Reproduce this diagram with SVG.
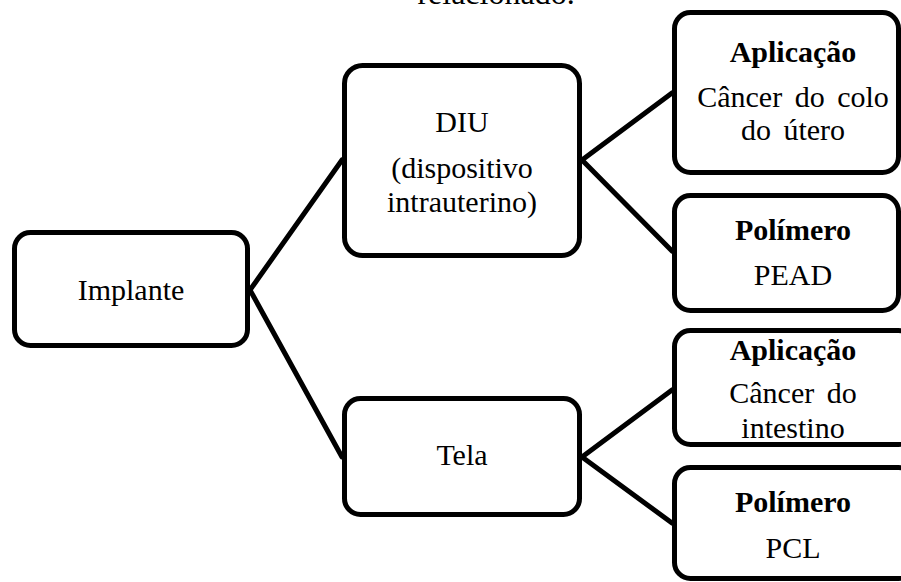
<svg xmlns="http://www.w3.org/2000/svg" width="901" height="582" viewBox="0 0 901 582">
<style>
.box{fill:#fff;stroke:#000;stroke-width:5}
.t{font-family:"Liberation Serif","Times New Roman",serif;font-size:30px;fill:#000;text-anchor:middle}
.b{font-weight:bold}
.w{word-spacing:5px}
.c{stroke:#000;stroke-width:5;fill:none;stroke-linecap:round}
</style>
<rect width="901" height="582" fill="#fff"/>
<text class="t" x="496" y="4" style="font-size:32px">relacionado.</text>
<g id="connectors">
<line class="c" x1="250" y1="290" x2="342" y2="160"/>
<line class="c" x1="250" y1="290" x2="342" y2="457"/>
<line class="c" x1="582" y1="160" x2="672" y2="93"/>
<line class="c" x1="582" y1="160" x2="672" y2="251"/>
<line class="c" x1="582" y1="457" x2="672" y2="390"/>
<line class="c" x1="582" y1="457" x2="672" y2="523"/>
</g>
<g id="implante">
<rect class="box" x="14.5" y="232.5" width="233" height="113" rx="16"/>
<text class="t" x="131" y="300">Implante</text>
</g>
<g id="diu">
<rect class="box" x="344.5" y="65.5" width="235" height="190" rx="18"/>
<text class="t" x="462" y="132">DIU</text>
<text class="t" x="462" y="178">(dispositivo</text>
<text class="t" x="462" y="212">intrauterino)</text>
</g>
<g id="tela">
<rect class="box" x="344.5" y="398.5" width="235" height="116" rx="16"/>
<text class="t" x="462" y="465">Tela</text>
</g>
<g id="aplicacao1">
<rect class="box" x="674.5" y="12.5" width="224" height="160" rx="16"/>
<text class="t b" x="793" y="62">Aplicação</text>
<text class="t w" x="793" y="107">Câncer do colo</text>
<text class="t w" x="793" y="140">do útero</text>
</g>
<g id="polimero1">
<rect class="box" x="674.5" y="195.5" width="224" height="115" rx="16"/>
<text class="t b" x="793" y="240">Polímero</text>
<text class="t" x="793" y="285">PEAD</text>
</g>
<g id="aplicacao2">
<rect class="box" x="674.5" y="330.5" width="240" height="114" rx="16"/>
<text class="t b" x="793" y="360">Aplicação</text>
<text class="t w" x="793" y="403">Câncer do</text>
<text class="t" x="793" y="438">intestino</text>
</g>
<g id="polimero2">
<rect class="box" x="674.5" y="467.5" width="240" height="111" rx="16"/>
<text class="t b" x="793" y="512">Polímero</text>
<text class="t" x="793" y="558">PCL</text>
</g>
</svg>
